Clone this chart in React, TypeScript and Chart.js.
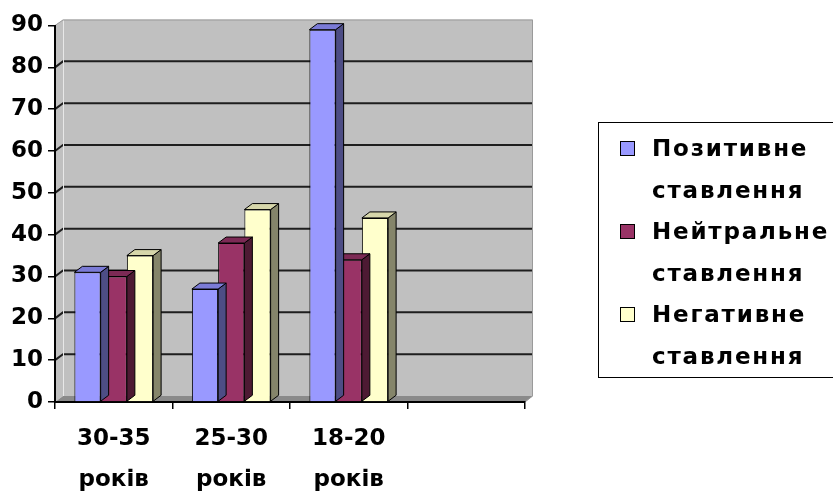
import React, { useEffect, useRef } from "react";
import { Chart, registerables } from "chart.js";

Chart.register(...registerables);

// ---- data ----
const categories: (string | string[])[] = [
  ["30-35", "років"],
  ["25-30", "років"],
  ["18-20", "років"],
  "",
];
const positiveValues = [31, 27, 89, null];
const neutralValues = [30, 38, 34, null];
const negativeValues = [35, 46, 44, null];
const seriesNames = [
  ["Позитивне", "ставлення"],
  ["Нейтральне", "ставлення"],
  ["Негативне", "ставлення"],
];
const yMin = 0;
const yMax = 90;
const yStep = 10;

// ---- styles ----
const frontColors = ["#9999FF", "#993366", "#FFFFCC"];
const topColors = ["#7B7BD6", "#7C2A55", "#D6D6AA"];
const sideColors = ["#4D4D85", "#4D1A33", "#85856A"];
const FONT = "'DejaVu Sans', Verdana, sans-serif";
const DX = 8;
const DY = 6;

const wallPlugin = {
  id: "wall3d",
  beforeDraw(chart: any) {
    const { ctx, chartArea } = chart;
    const { left, right, top, bottom } = chartArea;
    const y = chart.scales.y;
    ctx.save();
    ctx.fillStyle = "#C0C0C0";
    ctx.fillRect(left + DX, top - DY, right - left, bottom - top);
    ctx.beginPath();
    ctx.moveTo(left, top);
    ctx.lineTo(left + DX, top - DY);
    ctx.lineTo(left + DX, bottom - DY);
    ctx.lineTo(left, bottom);
    ctx.closePath();
    ctx.fill();
    ctx.fillStyle = "#8A8A8A";
    ctx.beginPath();
    ctx.moveTo(left, bottom);
    ctx.lineTo(left + DX, bottom - DY);
    ctx.lineTo(right + DX, bottom - DY);
    ctx.lineTo(right, bottom);
    ctx.closePath();
    ctx.fill();
    ctx.strokeStyle = "#1E1E1E";
    ctx.lineWidth = 2;
    for (const t of y.ticks) {
      if (t.value <= yMin || t.value >= yMax) continue;
      const py = y.getPixelForValue(t.value);
      ctx.beginPath();
      ctx.moveTo(left, py);
      ctx.lineTo(left + DX, py - DY);
      ctx.lineTo(right + DX, py - DY);
      ctx.stroke();
    }
    ctx.lineWidth = 1;
    ctx.strokeStyle = "#E8E8E8";
    ctx.beginPath();
    ctx.moveTo(left + DX + 0.5, top - DY);
    ctx.lineTo(left + DX + 0.5, bottom - DY);
    ctx.stroke();
    ctx.strokeStyle = "#9A9A9A";
    ctx.beginPath();
    ctx.moveTo(left, top);
    ctx.lineTo(left + DX, top - DY + 0.5);
    ctx.lineTo(right + DX - 0.5, top - DY + 0.5);
    ctx.lineTo(right + DX - 0.5, bottom - DY);
    ctx.lineTo(right, bottom);
    ctx.stroke();
    ctx.restore();
  },
  afterDatasetDraw(chart: any, args: any) {
    const { ctx } = chart;
    const idx = args.index;
    const meta = args.meta;
    ctx.save();
    ctx.lineWidth = 1;
    ctx.strokeStyle = "#000";
    meta.data.forEach((el: any, i: number) => {
      const v = chart.data.datasets[idx].data[i];
      if (v === null || v === undefined) return;
      const { x, y, base, width } = el.getProps(["x", "y", "base", "width"], true);
      const l = x - width / 2;
      const r = x + width / 2;
      ctx.fillStyle = sideColors[idx];
      ctx.beginPath();
      ctx.moveTo(r, y);
      ctx.lineTo(r + DX, y - DY);
      ctx.lineTo(r + DX, base - DY);
      ctx.lineTo(r, base);
      ctx.closePath();
      ctx.fill();
      ctx.stroke();
      ctx.fillStyle = topColors[idx];
      ctx.beginPath();
      ctx.moveTo(l, y);
      ctx.lineTo(l + DX, y - DY);
      ctx.lineTo(r + DX, y - DY);
      ctx.lineTo(r, y);
      ctx.closePath();
      ctx.fill();
      ctx.stroke();
    });
    ctx.restore();
  },
};

export default function App() {
  const ref = useRef<HTMLCanvasElement | null>(null);

  useEffect(() => {
    if (!ref.current) return;
    const tickFont = { family: FONT, weight: "bold" as const, size: 23, lineHeight: 41 / 23 };
    const chart = new Chart(ref.current, {
      type: "bar",
      data: {
        labels: categories as any,
        datasets: [positiveValues, neutralValues, negativeValues].map((d, i) => ({
          label: seriesNames[i].join(" "),
          data: d as any,
          backgroundColor: frontColors[i],
          borderColor: "#000",
          borderWidth: 1,
          categoryPercentage: 0.67,
          barPercentage: 1,
        })),
      },
      options: {
        responsive: false,
        animation: false,
        layout: { padding: { top: 17, right: 308, bottom: 0, left: 0 } },
        plugins: { legend: { display: false }, tooltip: { enabled: false } },
        scales: {
          x: {
            grid: { drawOnChartArea: false, drawTicks: true, tickLength: 7, color: "#000", lineWidth: 1.5, offset: true },
            border: { display: true, color: "#000", width: 2 },
            ticks: { color: "#000", font: tickFont, padding: 10, maxRotation: 0, autoSkip: false },
            afterFit: (s: any) => {
              s.height = 91;
            },
          },
          y: {
            min: yMin,
            max: yMax,
            ticks: { stepSize: yStep, color: "#000", font: tickFont, padding: 5, autoSkip: false },
            grid: { drawOnChartArea: false, drawTicks: true, tickLength: 7, color: "#000", lineWidth: 1.5 },
            border: { display: true, color: "#000", width: 2 },
            afterFit: (s: any) => {
              s.width = 55;
            },
          },
        },
      },
      plugins: [wallPlugin as any],
    });
    return () => chart.destroy();
  }, []);

  return (
    <div
      style={{
        position: "absolute",
        left: 0,
        top: 0,
        width: 833,
        height: 493,
        overflow: "hidden",
        background: "#fff",
      }}
    >
      <canvas ref={ref} width={833} height={493} style={{ position: "absolute", left: 0, top: 0 }} />
      <div
        style={{
          position: "absolute",
          left: 598,
          top: 122,
          width: 260,
          height: 256,
          border: "1.5px solid #000",
          boxSizing: "border-box",
          fontFamily: FONT,
          fontWeight: "bold",
          fontSize: 23,
          lineHeight: "41.5px",
          letterSpacing: "1.8px",
          color: "#000",
        }}
      >
        {seriesNames.map((lines, i) => (
          <div key={i} style={{ position: "absolute", left: 0, top: 5 + i * 83, width: 260 }}>
            <div
              style={{
                position: "absolute",
                left: 21,
                top: 13,
                width: 13,
                height: 13,
                border: "1px solid #000",
                background: frontColors[i],
              }}
            />
            <div style={{ position: "absolute", left: 53, top: 0, whiteSpace: "nowrap" }}>
              {lines.map((t, j) => (
                <div key={j}>{t}</div>
              ))}
            </div>
          </div>
        ))}
      </div>
    </div>
  );
}
